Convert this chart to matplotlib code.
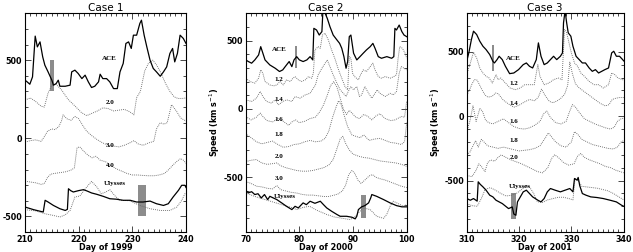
import matplotlib
matplotlib.use("Agg")
import matplotlib.pyplot as plt
import matplotlib.patches as patches
from matplotlib.ticker import MultipleLocator

# ---------------- Case 1 (1999) ----------------
c1_ace_day = [210.0, 210.2, 210.9, 211.4, 211.9, 212.3, 212.8, 213.3, 213.7, 214.3, 215.0, 215.3, 215.8, 216.2,
              216.5, 217.5, 218.4, 218.7, 219.3, 219.9, 220.6, 221.2, 221.8, 222.4, 223.0, 223.7, 224.0, 224.5,
              225.2, 225.8, 226.5, 227.2, 227.7, 228.3, 228.8, 229.3, 229.8, 230.2, 230.8, 231.4, 231.7, 232.2,
              232.7, 233.3, 233.9, 234.5, 235.2, 235.8, 236.4, 237.0, 237.5, 237.9, 238.4, 238.9, 239.5, 240.0]
c1_ace = [365, 367, 346, 393, 654, 585, 617, 521, 468, 425, 372, 340, 350, 372, 333, 333, 340, 425, 436, 415,
          382, 404, 361, 325, 333, 361, 410, 382, 382, 361, 318, 318, 425, 479, 607, 617, 575, 660, 660, 735,
          756, 660, 585, 500, 447, 425, 397, 425, 457, 543, 575, 489, 543, 660, 639, 607]

c1_r20_day = [210, 211, 212, 213, 213.6, 214.3, 215.0, 215.8, 216.8, 218, 219.5, 220.5, 221.5, 222.5, 223.5,
              224.5, 225.5, 226.5, 227.5, 228.5, 229.5, 230.3, 230.8, 231.5, 232.3, 233.0, 233.8, 234.5, 235.3,
              236.2, 237.0, 237.8, 238.5, 239.3, 240]
c1_r20 = [245, 258, 235, 205, 200, 290, 340, 345, 310, 250, 200, 165, 145, 160, 175, 195, 190, 175, 180, 185,
          170, 150, 260, 300, 430, 480, 500, 470, 420, 350, 300, 265, 255, 255, 258]

c1_r30_day = [210, 211, 212, 213, 213.6, 214.2, 215, 215.6, 216.3, 216.8, 217.1, 217.8, 218.6, 219.3, 220,
              220.8, 221.5, 222.5, 223.5, 224.5, 225.5, 226.5, 227.5, 228.5, 229.5, 230.3, 231, 232, 233, 234,
              234.5, 235.2, 235.9, 236.5, 237.3, 238.2, 239, 240]
c1_r30 = [-25, -15, -10, -20, 10, 45, 60, 55, 75, 110, 150, 125, 115, 140, 125, 80, 45, 15, -10, -30, -45, -50,
          -55, -45, -30, -15, -35, -45, -30, -20, 60, 100, 90, 100, 215, 175, 130, 110]

c1_r40_day = [210, 211, 212, 213, 213.6, 214.2, 214.8, 215.5, 216.5, 217.5, 218.5, 219.2, 219.7, 220.2, 221,
              221.8, 222.5, 223.2, 224, 225, 226, 227, 228, 229, 230, 231, 232, 233, 234, 235, 236, 236.8,
              237.6, 238.4, 239, 239.5, 240]
c1_r40 = [-275, -280, -285, -295, -290, -250, -230, -225, -220, -215, -205, -190, -60, -55, -85, -110, -125,
          -115, -140, -150, -175, -195, -210, -225, -235, -235, -238, -240, -240, -235, -225, -200, -170, -145,
          -130, -140, -160]

c1_uly_day = [210, 211.6, 213.4, 213.75, 214.3, 215.3, 216.5, 217.5, 217.9, 218.1, 218.5, 219, 220, 220.9,
              221.6, 222.4, 223.4, 224.6, 225.8, 227, 228.3, 229.6, 230.8, 232, 233.3, 234.5, 235.8, 236.7,
              237.6, 238.6, 239.2, 239.8, 240]
c1_uly = [-440, -457, -472, -397, -408, -430, -451, -462, -455, -323, -335, -344, -335, -329, -338, -350, -359,
          -372, -387, -390, -397, -397, -408, -408, -402, -419, -430, -419, -376, -333, -301, -301, -315]

c1_pred_day = [210, 212, 213.7, 215.3, 216.5, 217.5, 218.4, 219.3, 220.2, 221.5, 222.4, 223.4, 224.2, 225,
               225.8, 226.8, 227.7, 229.5, 231.4, 233.3, 235.2, 237, 238.3, 239.2, 239.8, 240]
c1_pred = [-457, -465, -483, -494, -504, -490, -462, -376, -370, -312, -276, -312, -355, -345, -329, -370,
           -397, -400, -430, -451, -462, -462, -440, -397, -355, -350]

# ---------------- Case 2 (2000) ----------------
c2_ace_day = [70, 70.5, 71.1, 71.7, 72.4, 72.8, 73.2, 73.6, 74.5, 75.5, 76.3, 76.9, 77.6, 78.1, 78.6, 79.0,
              79.5, 80.0, 80.7, 81.4, 82.0, 82.5, 82.7, 83.2, 83.7, 84.2, 84.4, 84.8, 85.2, 85.7, 86.3, 87.0,
              87.5, 87.9, 88.3, 88.7, 89.0, 89.3, 89.6, 90.1, 90.7, 91.3, 91.9, 92.5, 93.2, 93.7, 94.1, 94.7,
              95.3, 96.3, 97.2, 97.6, 97.8, 98.1, 98.6, 99.1, 99.5, 100]
c2_ace = [359, 347, 335, 359, 395, 456, 408, 359, 322, 298, 274, 286, 322, 347, 310, 359, 383, 359, 347, 359,
          383, 359, 590, 578, 541, 566, 730, 700, 663, 602, 541, 505, 480, 444, 383, 298, 347, 529, 541, 408,
          359, 383, 408, 432, 456, 480, 444, 383, 371, 383, 371, 383, 590, 578, 614, 566, 541, 529]

c2_r12_day = [70, 70.8, 71.7, 72.4, 72.8, 73.2, 73.6, 74.5, 75.2, 75.8, 76.4, 77.0, 77.6, 78.3, 78.8, 79.2,
              79.8, 80.4, 81.1, 81.7, 82.3, 82.6, 82.9, 83.5, 83.9, 84.3, 84.8, 85.4, 86.0, 86.6, 87.3, 87.9,
              88.5, 89.0, 89.3, 89.6, 89.9, 90.3, 91.0, 91.4, 91.9, 92.5, 93.2, 93.7, 94.1, 94.7, 95.3, 96.0,
              96.9, 97.6, 98.1, 98.4, 98.7, 99.2, 99.7, 100]
c2_r12 = [225, 201, 189, 225, 286, 262, 201, 176, 169, 176, 201, 176, 213, 201, 225, 237, 213, 201, 213, 237,
          225, 262, 432, 456, 444, 541, 554, 505, 432, 371, 286, 225, 164, 140, 383, 371, 262, 237, 213, 250,
          286, 274, 310, 335, 286, 237, 225, 237, 225, 237, 250, 371, 456, 444, 408, 371]

c2_r14_day = [70, 71.1, 72.0, 72.7, 73.2, 73.9, 74.8, 75.5, 76.1, 76.9, 77.6, 78.6, 79.2, 80.1, 81.1, 82.0,
              83.0, 83.5, 84.2, 84.8, 85.2, 85.7, 86.3, 87.0, 87.6, 88.2, 88.7, 89.1, 89.6, 90.1, 90.7, 91.2,
              91.6, 92.2, 92.9, 93.5, 94.1, 94.5, 95.0, 96.0, 96.9, 97.5, 98.1, 98.6, 99.0, 99.5, 100]
c2_r14 = [67, 55, 79, 128, 91, 55, 43, 67, 30, 55, 67, 55, 91, 79, 103, 115, 176, 249, 298, 335, 359, 310, 249,
          189, 140, 115, 91, 128, 164, 140, 164, 91, 103, 164, 115, 79, 115, 140, 115, 91, 115, 103, 128, 262,
          310, 298, 286]

c2_r16_day = [70, 71, 72, 72.7, 73.3, 74, 75, 76, 77, 78, 78.6, 79.3, 80, 81, 82, 83, 83.8, 84.5, 85.2, 85.8,
              86.4, 87, 87.6, 88.2, 88.8, 89.3, 89.8, 90.5, 91.2, 92, 92.8, 93.5, 94.3, 95, 96, 97, 97.8, 98.3,
              99, 99.6, 100]
c2_r16 = [-55, -80, -60, -30, -60, -85, -95, -70, -90, -120, -95, -80, -100, -90, -70, -60, -20, 30, 100, 170,
          200, 160, 80, 0, -40, -10, -30, -60, -70, -40, -55, -80, -50, -35, -70, -85, -80, -70, -55, -60, 60]

c2_r18_day = [70, 71, 72, 73, 74, 75, 76, 77, 78, 79, 80, 81, 82, 83, 84, 84.8, 85.5, 86.2, 86.8, 87.3, 87.8,
              88.3, 89, 89.8, 90.5, 91.3, 92, 93, 94, 95, 96, 97, 98, 99, 99.6, 100]
c2_r18 = [-180, -210, -240, -255, -245, -235, -260, -280, -275, -260, -255, -240, -230, -240, -235, -215, -160,
          -60, 10, 60, 30, -40, -130, -190, -200, -210, -190, -230, -220, -215, -230, -245, -250, -260, -240,
          -100]

c2_r20_day = [70, 71, 72, 73, 74, 75, 75.8, 76.5, 77.5, 78.5, 79.5, 80.5, 81.5, 82.5, 83.5, 84.5, 85.5, 86.3,
              87, 87.6, 88.1, 88.6, 89.3, 90, 91, 92, 93, 94, 95, 96, 97, 98, 99, 100]
c2_r20 = [-385, -375, -370, -395, -405, -400, -395, -415, -430, -440, -450, -455, -455, -450, -440, -430, -410,
          -370, -290, -220, -200, -250, -300, -330, -345, -355, -360, -370, -380, -385, -390, -395, -405, -420]

c2_r30_day = [70, 71, 72, 73, 74, 75, 75.8, 76.5, 77.5, 78.5, 79.5, 80.5, 81.5, 82.5, 83.5, 84.5, 85.5, 86.5,
              87.3, 88, 88.6, 89.2, 89.8, 90.3, 90.9, 91.5, 92.2, 93, 93.6, 94.3, 95, 96, 97, 98, 99, 100]
c2_r30 = [-530, -545, -565, -570, -580, -585, -560, -590, -600, -610, -615, -625, -630, -630, -635, -640, -640,
          -630, -620, -600, -560, -480, -450, -470, -520, -545, -520, -490, -480, -500, -510, -520, -535, -550,
          -565, -575]

c2_uly_day = [70, 70.5, 71.1, 71.7, 72.3, 72.9, 73.5, 74.1, 74.5, 75.8, 76.7, 77.6, 78.6, 79.2, 79.8, 80.7,
              81.3, 82.0, 82.9, 83.9, 84.5, 85.1, 86, 87, 87.6, 88.8, 89.8, 90.4, 90.7, 91, 91.6, 92.2, 92.9,
              93.3, 93.5, 94.4, 95.7, 96.9, 98.1, 99.1, 100]
c2_uly = [-595, -614, -605, -626, -620, -651, -626, -663, -639, -663, -687, -712, -736, -712, -724, -687, -700,
          -675, -690, -675, -700, -724, -748, -772, -785, -785, -792, -804, -785, -736, -716, -707, -687, -650,
          -626, -639, -663, -687, -707, -716, -716]

c2_pred_day = [70, 71.7, 74.2, 76.7, 78.5, 79.5, 80.7, 81.9, 83.2, 85.1, 86.5, 87.6, 89.4, 90.2, 91, 91.9,
               93.2, 94.4, 95.7, 96.3, 96.9, 97.5, 98.3, 99.4, 100]
c2_pred = [-614, -640, -670, -700, -720, -736, -720, -712, -740, -772, -790, -797, -809, -795, -760, -724,
           -736, -785, -800, -770, -712, -675, -690, -712, -700]

# ---------------- Case 3 (2001) ----------------
c3_ace_day = [310, 310.4, 310.9, 311.3, 311.9, 312.5, 313.1, 313.7, 314.4, 315, 315.3, 315.8, 316.2, 316.8,
              317.4, 318.2, 319, 319.9, 320.8, 321.4, 322, 322.6, 323.3, 323.7, 324.2, 324.8, 325.4, 326, 326.6,
              327.2, 327.9, 328.3, 328.5, 328.8, 329.1, 329.4, 329.9, 330.3, 330.9, 331.5, 332.1, 332.7, 333.4,
              334, 334.6, 335.2, 335.8, 336.4, 337.1, 337.7, 338.1, 338.6, 339.2, 339.8, 340]
c3_ace = [427, 492, 596, 661, 635, 583, 544, 518, 479, 427, 414, 440, 466, 440, 388, 331, 336, 362, 401, 414,
          388, 375, 440, 570, 466, 401, 414, 440, 466, 440, 466, 492, 726, 820, 726, 648, 622, 544, 466, 440,
          414, 414, 375, 349, 362, 336, 349, 362, 375, 492, 505, 466, 466, 440, 430]

c3_r12_day = [310, 310.7, 311.3, 311.9, 312.5, 313.1, 313.7, 314.3, 314.9, 315.6, 316, 316.5, 317.1, 317.7,
              318.3, 319.3, 320.2, 321.1, 322, 322.9, 323.6, 324, 324.8, 325.7, 326.6, 327.5, 328.2, 328.7, 329,
              329.4, 330, 330.6, 331.2, 331.8, 332.5, 333.4, 334.3, 335.2, 336.1, 337.1, 337.7, 338.3, 338.9,
              339.8, 340]
c3_r12 = [323, 414, 497, 453, 375, 336, 310, 297, 258, 323, 284, 297, 271, 245, 219, 206, 219, 245, 245, 245,
          401, 310, 245, 258, 284, 297, 284, 674, 661, 596, 492, 414, 388, 336, 310, 271, 245, 245, 219, 245,
          336, 323, 297, 284, 280]

c3_r14_day = [310, 310.5, 311, 311.5, 312, 312.5, 313, 313.5, 314, 314.5, 315, 315.5, 316, 316.5, 317, 318, 319,
              320, 321, 322, 323, 323.7, 324.3, 325, 325.8, 326.5, 327.3, 328, 328.7, 329.3, 329.7, 330.2,
              330.8, 331.5, 332.5, 333.5, 334.5, 335.5, 336.5, 337.2, 337.8, 338.5, 339.2, 340]
c3_r14 = [160, 200, 250, 285, 280, 240, 200, 165, 150, 150, 160, 180, 175, 150, 125, 95, 70, 85, 110, 130, 120,
          150, 210, 160, 115, 105, 120, 140, 170, 240, 420, 330, 250, 220, 190, 160, 130, 100, 80, 90, 130, 140,
          145, 145]

c3_r16_day = [310, 310.6, 311.2, 311.8, 312.5, 313, 313.6, 314.2, 315, 316, 317, 318, 319, 320, 321, 322, 323,
              324, 324.7, 325.3, 326, 327, 328, 329, 329.6, 330.2, 330.8, 331.5, 332.5, 333.5, 334.5, 335.5,
              336.5, 337.5, 338.2, 338.8, 339.5, 340]
c3_r16 = [-120, -40, 80, -40, 60, 40, -30, -50, -60, -40, -20, -50, -80, -95, -100, -90, -70, -40, 20, 40, -10,
          -50, -60, -40, 30, 90, 70, 30, -20, -40, -60, -75, -90, -100, -85, -40, -20, -15]

c3_r18_day = [310, 310.6, 311.2, 311.7, 312.2, 312.8, 313.3, 314, 315, 316, 317, 318, 319, 320, 321, 322, 323,
              324, 325, 325.6, 326.2, 327, 328, 329, 330, 330.6, 331.2, 332, 333, 334, 335, 336, 337, 338, 338.8,
              339.5, 340]
c3_r18 = [-300, -280, -230, -190, -240, -180, -200, -230, -240, -250, -240, -250, -260, -270, -265, -260, -250,
          -230, -170, -130, -160, -200, -230, -240, -200, -120, -140, -180, -200, -220, -230, -240, -250, -255,
          -240, -200, -190]

c3_r20_day = [310, 311, 311.8, 312.3, 312.8, 313.5, 314, 314.6, 315.3, 316, 316.6, 317.5, 318.5, 319.5, 320.5,
              321.5, 322.5, 323.5, 324.5, 325.5, 326.2, 326.8, 327.5, 328.5, 329.5, 330.5, 331.2, 331.8, 332.5,
              333.5, 334.5, 335.5, 336.5, 337.5, 338.5, 339.3, 340]
c3_r20 = [-460, -470, -420, -370, -390, -430, -360, -340, -350, -320, -300, -320, -340, -355, -370, -390, -410,
          -430, -440, -400, -330, -300, -320, -360, -380, -370, -310, -290, -320, -340, -355, -370, -390, -400,
          -420, -430, -440]

c3_uly_day = [310, 310.7, 311.3, 312.0, 312.2, 312.6, 313.1, 313.7, 314.4, 315, 315.6, 316.8, 318, 318.7, 319,
              319.4, 319.7, 320.8, 321.4, 322, 322.6, 323.6, 324.2, 324.8, 325.4, 326, 326.9, 327.9, 328.8,
              329.7, 330.3, 330.6, 331.1, 331.3, 331.6, 332.1, 332.8, 333.7, 334.9, 336.1, 337.4, 338.6, 339.6,
              340]
c3_uly = [-640, -653, -640, -660, -510, -530, -549, -575, -614, -627, -653, -679, -718, -705, -760, -770, -666,
          -588, -575, -601, -627, -653, -666, -640, -588, -562, -575, -588, -575, -562, -588, -484, -497, -476,
          -540, -601, -614, -627, -632, -640, -653, -666, -692, -700]

c3_pred_day = [310, 311, 312, 312.8, 313.5, 314.5, 315.5, 316.5, 317.5, 318.5, 319.5, 320.5, 321.3, 322, 322.8,
               323.5, 324.5, 325.5, 326.5, 327.5, 328.5, 329.5, 330.3, 330.7, 331.3, 332, 333, 334, 335, 336,
               337, 338, 339, 340]
c3_pred = [-680, -695, -700, -640, -570, -555, -575, -600, -620, -615, -600, -570, -540, -550, -600, -665, -670,
           -650, -640, -630, -630, -640, -650, -485, -500, -545, -550, -555, -560, -570, -580, -600, -625, -650]

# curve labels: (text, day, value)
c1_labels = [("ACE", 225.8, 510), ("2.0", 225.8, 226), ("3.0", 225.8, -49), ("4.0", 225.8, -173),
             ("Ulysses", 226.8, -290)]
c2_labels = [("ACE", 76.2, 432), ("1.2", 76.2, 213), ("1.4", 76.2, 67), ("1.6", 76.2, -74),
             ("1.8", 76.2, -188), ("2.0", 76.2, -351), ("3.0", 76.2, -512), ("Ulysses", 77.3, -640)]
c3_labels = [("ACE", 319, 448), ("1.2", 319, 258), ("1.4", 319, 102), ("1.6", 319, -42),
             ("1.8", 319, -185), ("2.0", 319, -320), ("Ulysses", 320.2, -545)]

# shaded intervals: (day0, day1, v0, v1)
c1_boxes = [(214.7, 215.4, 300, 500), (231.1, 232.5, -500, -300)]
c2_boxes = [(79.2, 79.6, 300, 460), (91.5, 92.4, -800, -630)]
c3_boxes = [(314.8, 315.3, 355, 555), (318.4, 319.5, -800, -600)]

W, H = 633, 252
fig = plt.figure(figsize=(W / 100, H / 100), dpi=100)
plt.rcParams['font.family'] = ['DejaVu Sans']
plt.rcParams['axes.unicode_minus'] = False

dot = dict(color='0.4', lw=0.65, linestyle=(0, (1, 1.2)))
solid = dict(color='black', lw=0.9)


def setup(ax, x0, x1, y0, y1, title, xlabel, ylabel=None):
    ax.set_xlim(x0, x1)
    ax.set_ylim(y0, y1)
    ax.xaxis.set_major_locator(MultipleLocator(10))
    ax.xaxis.set_minor_locator(MultipleLocator(1))
    ax.yaxis.set_major_locator(MultipleLocator(500))
    ax.yaxis.set_minor_locator(MultipleLocator(100))
    ax.tick_params(which='both', direction='in', top=True, right=True, width=0.5, labelsize=5.8, pad=2)
    ax.tick_params(which='major', length=4)
    ax.tick_params(which='minor', length=2)
    for lbl in ax.get_xticklabels() + ax.get_yticklabels():
        lbl.set_fontweight('bold')
    for s in ax.spines.values():
        s.set_linewidth(0.8)
    ax.set_title(title, fontsize=7.5, pad=1.5)
    ax.set_xlabel(xlabel, fontsize=5.8, fontweight='bold', labelpad=-0.5)
    if ylabel:
        ax.set_ylabel(ylabel, fontsize=5.8, fontweight='bold', labelpad=0.5)


def draw(ax, dotted, solids, labels, boxes):
    for b in boxes:
        ax.add_patch(patches.Rectangle((b[0], b[2]), b[1] - b[0], b[3] - b[2], facecolor='0.55',
                                       edgecolor='none', zorder=1))
    for d, v in dotted:
        ax.plot(d, v, zorder=2, **dot)
    for d, v in solids:
        ax.plot(d, v, zorder=3, **solid)
    for t, x, y in labels:
        ax.text(x, y, t, fontsize=5, fontweight='bold', family='Liberation Serif',
                ha='center', va='center', zorder=4)


ax1 = fig.add_axes([25 / W, 20 / H, 161 / W, 218.7 / H])
setup(ax1, 210, 240, -600, 800, "Case 1", "Day of 1999")
draw(ax1,
     [(c1_r20_day, c1_r20), (c1_r30_day, c1_r30), (c1_r40_day, c1_r40), (c1_pred_day, c1_pred)],
     [(c1_ace_day, c1_ace), (c1_uly_day, c1_uly)], c1_labels, c1_boxes)

ax2 = fig.add_axes([245.7 / W, 20 / H, 161 / W, 218.7 / H])
setup(ax2, 70, 100, -900, 700, "Case 2", "Day of 2000", "Speed (km s$^{-1}$)")
draw(ax2,
     [(c2_r12_day, c2_r12), (c2_r14_day, c2_r14), (c2_r16_day, c2_r16), (c2_r18_day, c2_r18),
      (c2_r20_day, c2_r20), (c2_r30_day, c2_r30), (c2_pred_day, c2_pred)],
     [(c2_ace_day, c2_ace), (c2_uly_day, c2_uly)], c2_labels, c2_boxes)

ax3 = fig.add_axes([466.7 / W, 20 / H, 157 / W, 218.7 / H])
setup(ax3, 310, 340, -900, 800, "Case 3", "Day of 2001", "Speed (km s$^{-1}$)")
draw(ax3,
     [(c3_r12_day, c3_r12), (c3_r14_day, c3_r14), (c3_r16_day, c3_r16), (c3_r18_day, c3_r18),
      (c3_r20_day, c3_r20), (c3_pred_day, c3_pred)],
     [(c3_ace_day, c3_ace), (c3_uly_day, c3_uly)], c3_labels, c3_boxes)

fig.savefig("out.png", dpi=100)
